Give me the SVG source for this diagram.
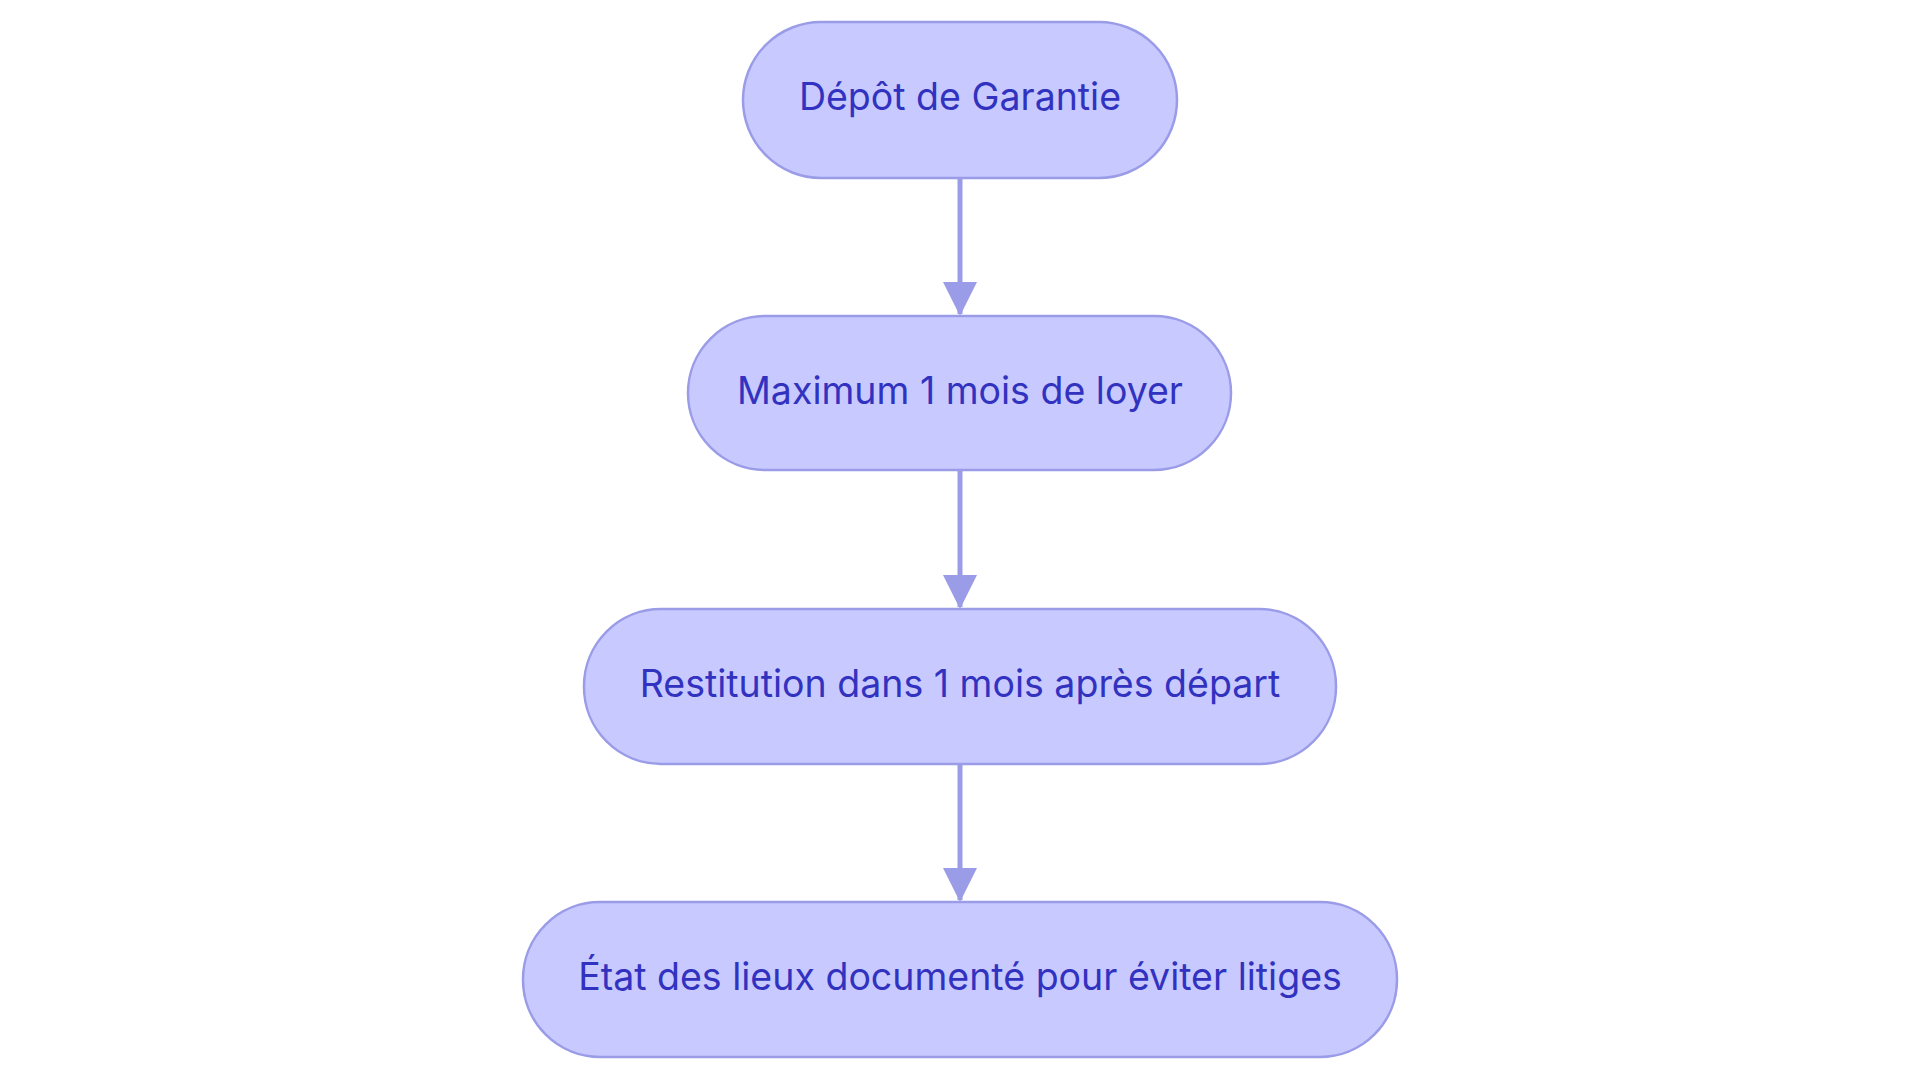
<svg xmlns="http://www.w3.org/2000/svg" width="1920" height="1083" viewBox="0 0 1920 1083">
<style>
.n{fill:#c8caff;stroke:#9a9ce8;stroke-width:2.5}
.t{font-family:Inter,"Noto Sans",sans-serif;font-size:37.5px;fill:#3232c0;text-anchor:middle;dominant-baseline:central}
.e{stroke:#9a9ce8;stroke-width:5;fill:none}
</style>
<defs><marker id="a" markerWidth="34" markerHeight="34" refX="32" refY="17" orient="auto" markerUnits="userSpaceOnUse"><path d="M0,0L34,17L0,34Z" fill="#9a9ce8"/></marker></defs>
<rect width="1920" height="1083" fill="#fff"/>
<g id="edges">
<path class="e" d="M960,178V314" marker-end="url(#a)"/>
<path class="e" d="M960,470V607" marker-end="url(#a)"/>
<path class="e" d="M960,764V900" marker-end="url(#a)"/>
</g>
<g id="n1"><rect class="n" x="743" y="22" width="434" height="156" rx="78"/><text class="t" x="960" y="96">Dépôt de Garantie</text></g>
<g id="n2"><rect class="n" x="688" y="316" width="543" height="154" rx="77"/><text class="t" x="960" y="390">Maximum 1 mois de loyer</text></g>
<g id="n3"><rect class="n" x="584" y="609" width="752" height="155" rx="77"/><text class="t" x="960" y="683">Restitution dans 1 mois après départ</text></g>
<g id="n4"><rect class="n" x="523" y="902" width="874" height="155" rx="77"/><text class="t" x="960" y="976">État des lieux documenté pour éviter litiges</text></g>
</svg>
